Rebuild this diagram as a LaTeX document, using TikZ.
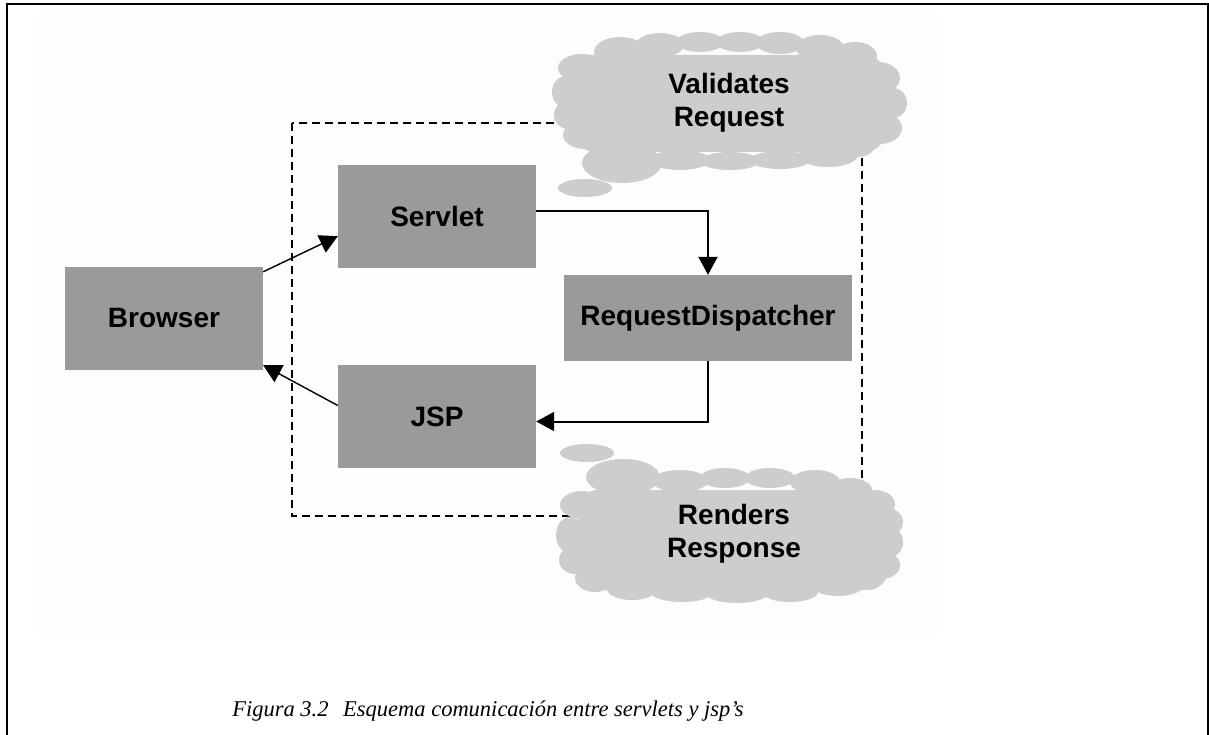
\documentclass[tikz,border=0pt]{standalone}
\usepackage{fontspec}
\setmainfont{Liberation Serif}
\newfontfamily\labelfont{Liberation Sans}
\usetikzlibrary{arrows.meta,calc}

\definecolor{boxgray}{HTML}{9A9A9A}
\definecolor{cloudgray}{HTML}{CDCDCD}
\definecolor{panel}{HTML}{FDFDFD}

\tikzset{
  block/.style={fill=boxgray, draw=none, inner sep=0pt, minimum width=198pt, minimum height=103pt,
                font=\labelfont\bfseries\fontsize{28}{32}\selectfont},
  cloudtext/.style={align=center, inner sep=0pt, font=\labelfont\bfseries\fontsize{28}{33}\selectfont},
  flow/.style={draw=black, line width=2pt, -{Triangle[length=18pt,width=19pt]}},
  thinflow/.style={draw=black, line width=1.4pt, -{Triangle[length=18pt,width=19pt]}},
  boundary/.style={draw=black, line width=1.6pt, dash pattern=on 8pt off 5pt},
  puff/.style={fill=cloudgray, draw=none},
  frameline/.style={draw=black, line width=2.6pt}
}

\begin{document}
\begin{tikzpicture}[x=1pt, y=-1pt]
  \useasboundingbox (0,0) rectangle (1209,735);

  % page frame and faint panel
  \fill[panel] (37,14) rectangle (938,635);
  \draw[frameline] (7,736) -- (7,4) -- (1208,4) -- (1208,736);

  % dashed container
  \draw[boundary] (292,123) rectangle (862,516);

  % upper thought cloud: core plus scalloped rim
  \fill[puff, rounded corners=20pt] (575,55) rectangle (885,152);
  \foreach \cx/\cy/\rx/\ry in {
      620/52/26/15, 660/45/24/12, 700/42/24/10, 740/42/24/10, 780/43/24/11,
      820/48/24/13, 855/56/22/14, 878/78/22/16, 893/103/14/15, 880/128/22/16,
      582/68/24/14, 566/92/14/16, 568/115/14/14, 585/135/22/14,
      622/163/40/20, 680/160/30/10, 730/161/30/9, 780/160/30/9, 828/155/30/12, 858/147/16/10}
    \fill[puff] (\cx,\cy) ellipse [x radius=\rx, y radius=\ry];
  \fill[puff] (585,188) ellipse [x radius=27, y radius=9];
  \node[cloudtext] (validates) at (729,103) {Validates\\Request};

  % lower thought cloud: core plus scalloped rim
  \fill[puff, rounded corners=20pt] (578,490) rectangle (888,590);
  \foreach \cx/\cy/\rx/\ry in {
      623/477/37/18, 680/481/28/11, 725/478/25/10, 770/478/25/10, 815/482/25/12,
      850/490/22/12, 875/504/20/14, 887/522/16/14, 893/542/10/14, 882/565/18/14,
      582/505/22/14, 570/535/14/18, 575/560/16/14, 595/578/20/14,
      632/589/25/11, 682/593/30/9, 737/594/30/9, 790/592/28/10, 838/586/25/10, 868/576/18/10}
    \fill[puff] (\cx,\cy) ellipse [x radius=\rx, y radius=\ry];
  \fill[puff] (587,453) ellipse [x radius=27, y radius=9];
  \node[cloudtext] (renders) at (734,534) {Renders\\Response};

  % components
  \node[block] (browser) at (164,318.5) {Browser};
  \node[block] (servlet) at (437,216.5) {Servlet};
  \node[block, minimum width=288pt, minimum height=86pt] (dispatcher) at (708,318) {RequestDispatcher};
  \node[block] (jsp) at (437,416.5) {JSP};

  % request / response flow
  \draw[thinflow] ($(browser.north east)+(0,5)$) -- ($(servlet.south west)+(0,-32)$);
  \draw[flow] ($(servlet.east)+(0,-5)$) -| (dispatcher.north);
  \draw[flow] (dispatcher.south) |- ($(jsp.east)+(0,5)$);
  \draw[thinflow] ($(jsp.west)+(0,-11)$) -- ($(browser.south east)+(0,-5)$);

  % caption
  \node[font=\itshape\fontsize{22.5}{26}\selectfont, inner sep=0pt] (caption) at (488,711)
    {Figura 3.2\hspace{0.4em} Esquema comunicación entre servlets y jsp’s};
\end{tikzpicture}
\end{document}
